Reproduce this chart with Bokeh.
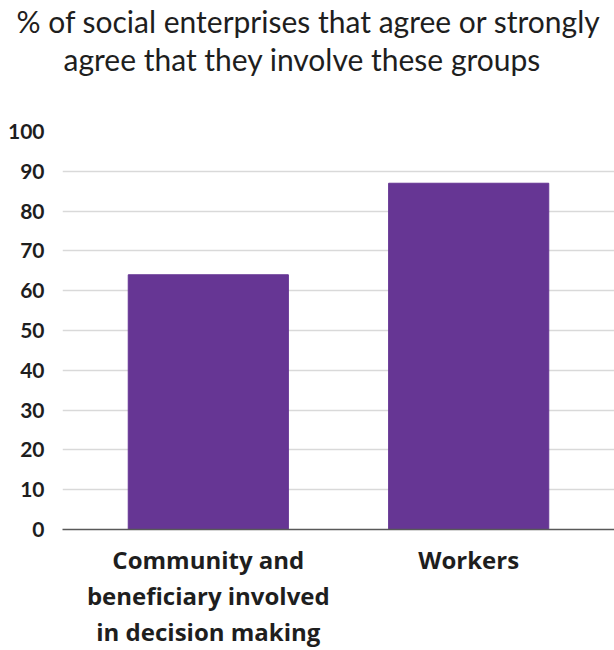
from bokeh.plotting import figure
from bokeh.models import FactorRange, Range1d, Title, SingleIntervalTicker, CategoricalAxis
from bokeh.embed import file_html
from bokeh.resources import INLINE

categories = ["Community and beneficiary involved in decision making", "Workers"]
label_line1 = ["Community and", "Workers"]
label_line2 = ["beneficiary involved", " "]
label_line3 = ["in decision making", "  "]
values = [64, 87]
title_lines = ["% of social enterprises that agree or strongly",
               "agree that they involve these groups"]
bar_color = "#663694"
text_color = "#1e1e1e"
pad = dict(range_padding=0.06, range_padding_units="absolute")

p = figure(x_range=FactorRange(*categories, **pad),
           y_range=Range1d(0, 100),
           width=614, height=650, output_backend="svg", toolbar_location=None,
           min_border_left=62, min_border_right=0, min_border_top=0, min_border_bottom=0)

p.vbar(x=categories, top=values, width=0.615, color=bar_color)

# titles: spacer nearest the frame, then line 2, then line 1 (outermost)
p.title = None
spacer = Title(text=" ", text_font_size="30px", standoff=20)
t2 = Title(text=title_lines[1], align="left", offset=1, text_font="Lato", text_font_size="30px",
           text_font_style="normal", text_color=text_color, standoff=0)
t1 = Title(text=title_lines[0], align="left", offset=-46, text_font="Lato", text_font_size="30px",
           text_font_style="normal", text_color=text_color, standoff=0)
p.add_layout(spacer, "above")
p.add_layout(t2, "above")
p.add_layout(t1, "above")

p.outline_line_color = None
p.xgrid.grid_line_color = None
p.ygrid.grid_line_color = "#d9d9d9"
p.ygrid.grid_line_width = 1.5
p.yaxis.ticker = SingleIntervalTicker(interval=10)
p.yaxis.axis_line_color = None
p.yaxis.major_tick_line_color = None
p.yaxis.minor_tick_line_color = None
p.yaxis.major_tick_out = 0
p.yaxis.major_tick_in = 0
p.yaxis.major_label_text_font = "Lato"
p.yaxis.major_label_text_font_style = "bold"
p.yaxis.major_label_text_font_size = "21px"
p.yaxis.major_label_text_color = text_color
p.yaxis.major_label_standoff = 14

p.xaxis.visible = False

# one categorical axis per line of the category labels
for i, lines in enumerate((label_line1, label_line2, label_line3)):
    name = f"line{i + 1}"
    p.extra_x_ranges[name] = FactorRange(*lines, **pad)
    ax = CategoricalAxis(x_range_name=name)
    ax.major_tick_line_color = None
    ax.minor_tick_line_color = None
    ax.major_tick_out = 0
    ax.major_tick_in = 0
    ax.major_label_text_font = "Open Sans"
    ax.major_label_text_font_style = "bold"
    ax.major_label_text_font_size = "24px"
    ax.major_label_text_color = text_color
    if i == 0:
        ax.axis_line_color = "#595959"
        ax.axis_line_width = 1.5
        ax.major_label_standoff = 13
    else:
        ax.axis_line_color = None
        ax.major_label_standoff = 0
    p.add_layout(ax, "below")

open("out.html", "w").write(file_html(p, INLINE))
